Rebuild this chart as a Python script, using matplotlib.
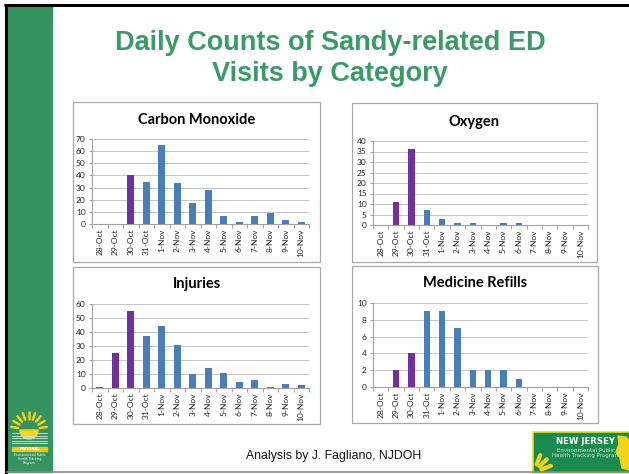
import matplotlib
matplotlib.use('Agg')
import matplotlib.pyplot as plt
from matplotlib.patches import Rectangle, Wedge, Polygon
import numpy as np

# ---------------- data ----------------
dates = ['28-Oct', '29-Oct', '30-Oct', '31-Oct', '1-Nov', '2-Nov', '3-Nov',
         '4-Nov', '5-Nov', '6-Nov', '7-Nov', '8-Nov', '9-Nov', '10-Nov']
storm_days = ['29-Oct', '30-Oct']
carbon_monoxide = [0, 0, 40, 35, 65, 34, 17, 28, 7, 2, 7, 9, 3, 2]
oxygen = [0, 11, 36, 7, 3, 1, 1, 0, 1, 1, 0, 0, 0, 0]
injuries = [1, 25, 55, 37, 44, 31, 10, 14, 11, 4, 6, 1, 3, 2]
medicine_refills = [0, 2, 4, 9, 9, 7, 2, 2, 2, 1, 0, 0, 0, 0]

main_title = 'Daily Counts of Sandy-related ED\nVisits by Category'
footer = 'Analysis by J. Fagliano, NJDOH'

BLUE = '#4a7ebb'
PURPLE = '#7030a0'
GREEN = '#3a9a6a'

W, H = 629, 474
fig = plt.figure(figsize=(W / 100, H / 100), dpi=100)
fig.patch.set_facecolor('white')

bg = fig.add_axes([0, 0, 1, 1], zorder=0)
bg.set_xlim(0, W)
bg.set_ylim(H, 0)
bg.axis('off')


def ax_at(l, t, r, b):
    return fig.add_axes([l / W, 1 - b / H, (r - l) / W, (b - t) / H], zorder=2)


# ---------------- slide decorations ----------------
bg.add_patch(Rectangle((7, 6), 45, 466, color='#34935f', zorder=1))
bg.plot([4, W], [4.5, 4.5], color='black', lw=2.2, zorder=3, solid_capstyle='butt')
bg.plot([5.5, 5.5], [4, H], color='black', lw=2.2, zorder=3, solid_capstyle='butt')
bg.plot([7, W], [472, 472], color='#8a8a8a', lw=1.2, zorder=3)

# left logo (sun over fields)
bg.add_patch(Wedge((29, 430), 9, 0, 180, color='#f2d31b', zorder=2))
for ang in np.linspace(10, 170, 9):
    a = np.radians(ang)
    bg.plot([29 + 11 * np.cos(a), 29 + 18 * np.cos(a)],
            [430 - 11 * np.sin(a), 430 - 18 * np.sin(a)],
            color='#f2d31b', lw=1.8, zorder=2, solid_capstyle='round')
for k in range(5):
    bg.plot([12, 47], [433 + 2.5 * k, 433 + 2.5 * k], color='#d8e8d8', lw=0.6, zorder=2)
bg.add_patch(Rectangle((12, 447), 35, 4, color='#e6c81e', zorder=2))
bg.text(29.5, 449, 'NATIONAL', fontsize=2.6, color='white', ha='center', va='center',
        fontweight='bold', zorder=3)
for k, s in enumerate(['Environmental Public', 'Health Tracking', 'Program']):
    bg.text(29.5, 455 + 4 * k, s, fontsize=2.2, color='white', ha='center', va='center', zorder=3)

# right logo
bg.add_patch(Rectangle((533, 432), 97, 41, fc='#1b8a4e', ec='#e5e01f', lw=1.2, zorder=2))
bg.text(586, 441, 'NEW JERSEY', fontsize=6.2, color='white', fontweight='bold',
        ha='center', va='center', zorder=3)
bg.text(586, 450, 'Environmental Public', fontsize=4, color='#cfe8cf', ha='center', va='center', zorder=3)
bg.text(586, 456, 'Health Tracking Program', fontsize=4, color='#cfe8cf', ha='center', va='center', zorder=3)
for ang in [20, 45, 70]:
    a = np.radians(ang)
    bg.plot([534 + 8 * np.cos(a), 534 + 18 * np.cos(a)],
            [472 - 8 * np.sin(a), 472 - 18 * np.sin(a)],
            color='#f2d31b', lw=3, zorder=3, solid_capstyle='round')
bg.add_patch(Polygon([[618, 436], [626, 437], [629, 440], [629, 470], [622, 468],
                      [620, 458], [616, 452], [619, 444]], color='#f2d31b', zorder=3))

# titles
bg.text(330, 58, main_title, color=GREEN, fontsize=19.5, fontweight='bold',
        family='Liberation Sans', ha='center', va='center', linespacing=1.25, zorder=3)
bg.text(334, 456, footer, color='#111111', fontsize=8.8, family='Liberation Sans',
        ha='center', va='center', zorder=3)

# panel boxes
boxes = [(73, 102, 320, 262), (352, 103, 597, 262), (73, 267, 320, 424), (352, 266, 598, 423)]
for l, t, r, b in boxes:
    bg.add_patch(Rectangle((l, t), r - l, b - t, fc='white', ec='#a8a8a8', lw=0.9, zorder=2))


def bar_chart(rect, values, ymax, step, title, title_xy):
    ax = ax_at(*rect)
    ax.patch.set_alpha(0)
    x = np.arange(len(dates))
    colors = [PURPLE if d in storm_days else BLUE for d in dates]
    ax.bar(x, values, width=0.42, color=colors, zorder=3)
    ax.set_xlim(-0.5, len(dates) - 0.5)
    ax.set_ylim(0, ymax)
    ax.set_yticks(np.arange(0, ymax + 0.1, step))
    ax.yaxis.grid(True, color='#c4c4c4', lw=0.7)
    ax.set_axisbelow(True)
    ax.set_xticks(x)
    ax.set_xticklabels(dates, rotation=90, fontsize=6, family='Lato', color='#222222')
    ax.set_xticks(np.arange(-0.5, len(dates), 1), minor=True)
    ax.tick_params(axis='x', which='major', length=0, pad=3)
    ax.tick_params(axis='x', which='minor', length=3, color='#a0a0a0', width=0.7)
    ax.tick_params(axis='y', length=2.5, color='#a0a0a0', width=0.7, pad=2,
                   labelsize=6, labelcolor='#222222')
    for lab in ax.get_yticklabels():
        lab.set_family('Lato')
    for s in ['top', 'right']:
        ax.spines[s].set_visible(False)
    for s in ['left', 'bottom']:
        ax.spines[s].set_color('#a0a0a0')
        ax.spines[s].set_linewidth(0.8)
    bg.text(title_xy[0], title_xy[1], title, fontsize=10.5, fontweight='bold', family='Lato',
            ha='center', va='center', color='black', zorder=3)
    return ax


bar_chart((92, 139, 309, 224), carbon_monoxide, 70, 10, 'Carbon Monoxide', (197, 120))
bar_chart((373, 141, 588, 225), oxygen, 40, 5, 'Oxygen', (474, 122))
bar_chart((92, 304, 309, 388), injuries, 60, 10, 'Injuries', (197, 284))
bar_chart((373, 303, 588, 387), medicine_refills, 10, 2, 'Medicine Refills', (475, 283))

fig.savefig('out.png', dpi=100, facecolor='white')
